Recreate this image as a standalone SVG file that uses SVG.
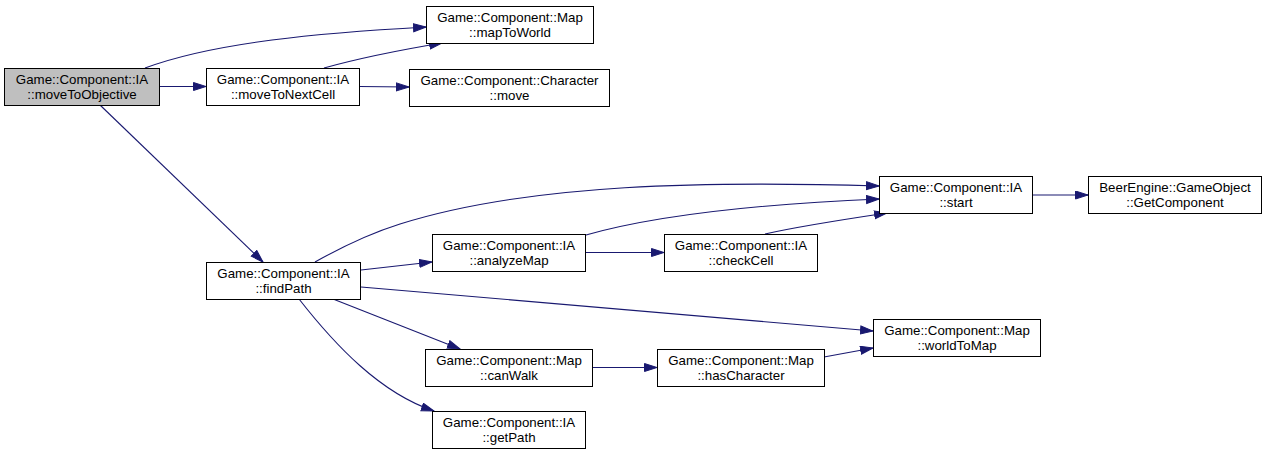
<svg xmlns="http://www.w3.org/2000/svg" width="1267" height="455" viewBox="0 0 1267 455">
<style>
.n rect{fill:#ffffff;stroke:#000000;stroke-width:1}
.n.cur rect{fill:#bfbfbf}
.n text{font-family:"Liberation Sans",Arial,Helvetica,sans-serif;font-size:13.3px;text-anchor:middle;fill:#000000}
.e path{fill:none;stroke:#191970;stroke-width:1.1}
</style>
<defs>
<marker id="ah" markerWidth="14" markerHeight="10" refX="13" refY="4.5" orient="auto" markerUnits="userSpaceOnUse">
<path d="M0.5,0.5 L13,4.5 L0.5,8.5 Z" fill="#191970" stroke="#191970" stroke-width="1"/>
</marker>
</defs>
<rect width="1267" height="455" fill="#ffffff"/>
<g id="edges" class="e">
<path d="M145,68 C215,42 320,33 426,27" marker-end="url(#ah)"/>
<path d="M159,86.5 L206,86.5" marker-end="url(#ah)"/>
<path d="M324,68 C360,58 400,50 442,43" marker-end="url(#ah)"/>
<path d="M359,86.5 L409,87" marker-end="url(#ah)"/>
<path d="M100,105 L263,262" marker-end="url(#ah)"/>
<path d="M315,262 C340,248 368,234 400,224 C530,183 710,181 879,186" marker-end="url(#ah)"/>
<path d="M586,235 C660,214 760,204 879,199" marker-end="url(#ah)"/>
<path d="M586,252.5 L664,252.5" marker-end="url(#ah)"/>
<path d="M765,234 C800,226 840,220 887,213" marker-end="url(#ah)"/>
<path d="M1032,195 L1088,195" marker-end="url(#ah)"/>
<path d="M361,270 L432,262" marker-end="url(#ah)"/>
<path d="M361,287 L873,331" marker-end="url(#ah)"/>
<path d="M333,299 L460,349" marker-end="url(#ah)"/>
<path d="M299,299 C335,345 380,393 434,411" marker-end="url(#ah)"/>
<path d="M593,367.5 L657,367.5" marker-end="url(#ah)"/>
<path d="M824,357 L873,348" marker-end="url(#ah)"/>
</g>
<g id="moveToObjective" class="n cur"><rect x="4.5" y="68.5" width="155" height="37"/><text x="82" y="84.3">Game::Component::IA</text><text x="82" y="99.3">::moveToObjective</text></g>
<g id="moveToNextCell" class="n"><rect x="206.5" y="68.5" width="153" height="37"/><text x="283" y="84.3">Game::Component::IA</text><text x="283" y="99.3">::moveToNextCell</text></g>
<g id="mapToWorld" class="n"><rect x="426.5" y="6.5" width="167" height="37"/><text x="510" y="22.3">Game::Component::Map</text><text x="510" y="37.3">::mapToWorld</text></g>
<g id="move" class="n"><rect x="409.5" y="69.5" width="200" height="37"/><text x="509.5" y="85.3">Game::Component::Character</text><text x="509.5" y="100.3">::move</text></g>
<g id="findPath" class="n"><rect x="206.5" y="262.5" width="154" height="37"/><text x="283.5" y="278.3">Game::Component::IA</text><text x="283.5" y="293.3">::findPath</text></g>
<g id="start" class="n"><rect x="879.5" y="176.5" width="153" height="37"/><text x="956" y="192.3">Game::Component::IA</text><text x="956" y="207.3">::start</text></g>
<g id="GetComponent" class="n"><rect x="1088.5" y="176.5" width="173" height="37"/><text x="1175" y="192.3">BeerEngine::GameObject</text><text x="1175" y="207.3">::GetComponent</text></g>
<g id="analyzeMap" class="n"><rect x="432.5" y="234.5" width="153" height="37"/><text x="509" y="250.3">Game::Component::IA</text><text x="509" y="265.3">::analyzeMap</text></g>
<g id="checkCell" class="n"><rect x="664.5" y="234.5" width="153" height="37"/><text x="741" y="250.3">Game::Component::IA</text><text x="741" y="265.3">::checkCell</text></g>
<g id="worldToMap" class="n"><rect x="873.5" y="319.5" width="167" height="37"/><text x="957" y="335.3">Game::Component::Map</text><text x="957" y="350.3">::worldToMap</text></g>
<g id="canWalk" class="n"><rect x="425.5" y="349.5" width="167" height="37"/><text x="509" y="365.3">Game::Component::Map</text><text x="509" y="380.3">::canWalk</text></g>
<g id="hasCharacter" class="n"><rect x="657.5" y="349.5" width="167" height="37"/><text x="741" y="365.3">Game::Component::Map</text><text x="741" y="380.3">::hasCharacter</text></g>
<g id="getPath" class="n"><rect x="432.5" y="411.5" width="153" height="37"/><text x="509" y="427.3">Game::Component::IA</text><text x="509" y="442.3">::getPath</text></g>
</svg>
